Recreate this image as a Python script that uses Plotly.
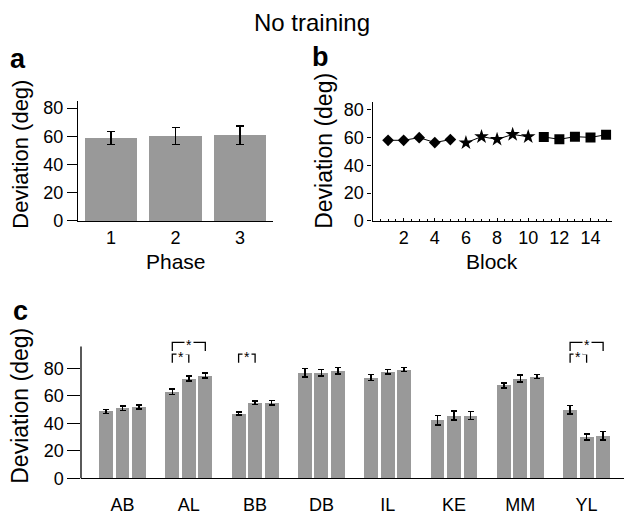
import plotly.graph_objects as go

# ---------------- data ----------------
phases = [1, 2, 3]
phase_mean = [58.8, 60.1, 60.8]
phase_err = [4.7, 6.2, 6.4]

blocks_diamond = [1, 2, 3, 4, 5]
dev_diamond = [58.0, 58.0, 59.9, 56.4, 58.5]
blocks_star = [6, 7, 8, 9, 10]
dev_star = [56.2, 60.6, 58.7, 62.2, 60.6]
blocks_square = [11, 12, 13, 14, 15]
dev_square = [60.4, 58.7, 60.6, 60.1, 62.0]
block_ticks = [2, 4, 6, 8, 10, 12, 14]

subjects = ["AB", "AL", "BB", "DB", "IL", "KE", "MM", "YL"]
phase1 = [48.8, 63.0, 47.2, 76.9, 73.4, 42.2, 67.7, 50.0]
phase2 = [51.0, 72.7, 55.0, 76.9, 77.6, 45.8, 72.7, 30.2]
phase3 = [51.9, 74.8, 55.0, 78.3, 79.1, 45.8, 74.1, 30.9]
err1 = [1.5, 1.9, 1.2, 3.0, 2.1, 3.4, 1.8, 3.0]
err2 = [1.6, 1.9, 1.2, 2.4, 1.8, 3.3, 2.4, 2.1]
err3 = [1.4, 1.9, 1.6, 2.4, 1.5, 2.8, 1.4, 3.1]
# significance: (subject index, first phase, second phase, level)
sig_pairs = [(1, 0, 1, 0), (1, 0, 2, 1), (2, 0, 1, 0), (7, 0, 1, 0), (7, 0, 2, 1)]

# ---------------- style ----------------
W, H = 624, 515
FONT = "Liberation Sans, Arial, Helvetica, sans-serif"
GRAY = "#999999"
BAR_OFF = 0.249
BAR_W = 0.21
BRACKET_TOP = [90.4, 98.9]
BRACKET_LEG = 6.2


def xd(a, b):
    return [a / W, b / W]


def yd(top, bottom):
    return [1 - bottom / H, 1 - top / H]


fig = go.Figure()

# panel a
fig.add_trace(go.Bar(x=phases, y=phase_mean, width=0.806, marker_color=GRAY,
                     marker_line_width=0,
                     error_y=dict(type="data", array=phase_err, color="black",
                                  thickness=1.2, width=4),
                     xaxis="x", yaxis="y", showlegend=False))

# panel b
for xs, ys, sym, sz in [(blocks_diamond, dev_diamond, "diamond", 9),
                        (blocks_star, dev_star, "star", 11),
                        (blocks_square, dev_square, "square", 10)]:
    fig.add_trace(go.Scatter(x=xs, y=ys, mode="lines+markers",
                             line=dict(color="black", width=1),
                             marker=dict(symbol=sym, size=sz, color="black"),
                             xaxis="x2", yaxis="y2", showlegend=False))

# panel c
for k, (vals, errs) in enumerate([(phase1, err1), (phase2, err2), (phase3, err3)]):
    xs = [i + (k - 1) * BAR_OFF for i in range(len(subjects))]
    fig.add_trace(go.Bar(x=xs, y=vals, width=BAR_W, marker_color=GRAY,
                         marker_line_width=0,
                         error_y=dict(type="data", array=errs, color="black",
                                      thickness=1.5, width=3),
                         xaxis="x3", yaxis="y3", showlegend=False))

shapes = []
annotations = []
for (g, a, b, lvl) in sig_pairs:
    x0 = g + (a - 1) * BAR_OFF
    x1 = g + (b - 1) * BAR_OFF
    top = BRACKET_TOP[lvl]
    bot = top - BRACKET_LEG
    shapes.append(dict(type="path", xref="x3", yref="y3",
                       path=f"M{x0},{bot} L{x0},{top} L{x1},{top} L{x1},{bot}",
                       line=dict(color="black", width=1.3)))
    annotations.append(dict(x=(x0 + x1) / 2, y=top, xref="x3", yref="y3",
                            text="*", showarrow=False, bgcolor="white",
                            borderpad=1, yshift=-3,
                            font=dict(size=14, color="#000000", family=FONT)))

# y axis line of panel c
shapes.append(dict(type="line", xref="x3 domain", yref="y3", x0=0, x1=0,
                   y0=0, y1=95.9, line=dict(color="black", width=1.3)))

# titles, axis titles, panel letters
annotations += [
    dict(x=312 / W, y=1 - 20 / H, text="No training", font=dict(size=24)),
    dict(x=18 / W, y=1 - 58 / H, text="<b>a</b>", font=dict(size=27)),
    dict(x=320 / W, y=1 - 55 / H, text="<b>b</b>", font=dict(size=27)),
    dict(x=20 / W, y=1 - 317 / H, text="<b>c</b>", font=dict(size=27)),
    dict(x=175.5 / W, y=1 - 266 / H, text="Phase", font=dict(size=21)),
    dict(x=492 / W, y=1 - 266 / H, text="Block", font=dict(size=21)),
    dict(x=21 / W, y=1 - 156 / H, text="Deviation (deg)", textangle=-90,
         font=dict(size=22)),
    dict(x=324 / W, y=1 - 152 / H, text="Deviation (deg)", textangle=-90,
         font=dict(size=23)),
    dict(x=20 / W, y=1 - 414 / H, text="Deviation (deg)", textangle=-90,
         font=dict(size=23)),
]
for an in annotations[len(sig_pairs):]:
    an.update(xref="paper", yref="paper", showarrow=False,
              xanchor="center", yanchor="middle")
    an["font"].update(family=FONT, color="black")

axis_common = dict(showgrid=False, zeroline=False, linecolor="black",
                   linewidth=1.3, tickfont=dict(size=18, family=FONT, color="black"),
                   tickcolor="black", tickwidth=1.2)

fig.update_layout(
    width=W, height=H, margin=dict(l=0, r=0, t=0, b=0),
    paper_bgcolor="white", plot_bgcolor="white",
    font=dict(family=FONT, color="black"),
    bargap=0,
    xaxis=dict(domain=xd(78, 273), range=[0.49, 3.51], showline=True,
               tickvals=phases, ticks="", anchor="y", **axis_common),
    yaxis=dict(domain=yd(101, 224), range=[0, 84.8], showline=True,
               tickvals=[0, 20, 40, 60, 80], ticks="outside", ticklen=10,
               anchor="x", **axis_common),
    xaxis2=dict(domain=xd(372.5, 612), range=[0, 15.38], showline=True,
                tickvals=block_ticks, ticks="inside", ticklen=3,
                minor=dict(dtick=0.5, tick0=0, ticks="inside", ticklen=2,
                           tickcolor="black", tickwidth=1),
                anchor="y2", **axis_common),
    yaxis2=dict(domain=yd(101.7, 224), range=[0, 85.6], showline=True,
                tickvals=[0, 20, 40, 60, 80], ticks="outside", ticklen=4,
                anchor="x2", **axis_common),
    xaxis3=dict(domain=xd(81, 624), range=[-0.626, 7.564], showline=True,
                tickvals=list(range(len(subjects))), ticktext=subjects,
                ticks="", ticklabelstandoff=10, anchor="y3", **axis_common),
    yaxis3=dict(domain=yd(347.4, 488.7), range=[0, 100], showline=False,
                tickvals=[0, 20, 40, 60, 80], ticks="outside", ticklen=12.7,
                anchor="x3", **axis_common),
    shapes=shapes,
    annotations=annotations,
)

fig.write_html("out.html", config={"displayModeBar": False},
               post_script="document.body.style.margin='0';"
                           "document.body.style.padding='0';"
                           "document.documentElement.style.overflow='hidden';")
